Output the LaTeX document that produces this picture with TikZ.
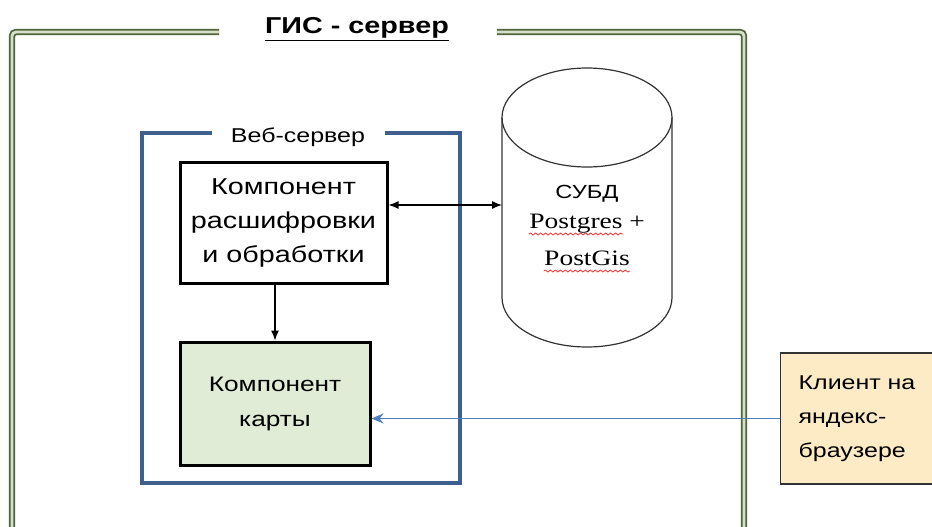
\documentclass[tikz,border=0pt]{standalone}
\usepackage{fontspec}
\setmainfont{Liberation Sans}[FakeStretch=1.25]
\newfontfamily\pgfont{Liberation Serif}[FakeStretch=1.25]
\usetikzlibrary{arrows.meta,decorations.pathmorphing}
\definecolor{gisgreen}{HTML}{50643C}
\definecolor{gislight}{HTML}{D5E0C8}
\definecolor{webblue}{HTML}{3F5F8F}
\definecolor{mapfill}{HTML}{E0ECD6}
\definecolor{clientfill}{HTML}{FDEBC6}
\definecolor{linkblue}{HTML}{4F7FBD}
\tikzset{
	gisframe/.style={draw=gisgreen, double=gislight, line width=0.9pt, double distance=1.4pt, rounded corners=2pt},
	webframe/.style={draw=webblue, line width=2pt},
	comp/.style={draw=black, line width=1.5pt, align=center, font=\fontsize{11.5}{17}\selectfont},
	client/.style={draw=black!80, line width=0.6pt, fill=clientfill, align=left, text width=100pt, inner xsep=9pt, minimum height=65.5pt, font=\fontsize{10}{17}\selectfont},
	dbline/.style={draw=black!80, line width=0.6pt},
	spell/.style={draw=red!80, line width=0.4pt, decorate, decoration={snake, amplitude=0.5pt, segment length=2.5pt}}
}
\begin{document}
\begin{tikzpicture}[x=0.5pt,y=-0.5pt,>={Latex[length=5pt,width=4pt]}]
	\useasboundingbox[fill=white] (0,0) rectangle (932,526);
	\clip (0,0) rectangle (932,526);
	\node[anchor=base, font=\bfseries\fontsize{11.5}{14}\selectfont] (gis) at (357,33) {\underline{ГИС - сервер}};
	\draw[gisframe] (219,32) -- (12,32) -- (12,540);
	\draw[gisframe] (497,32) -- (744,32) -- (744,540);
	\node[anchor=base, font=\fontsize{10}{14}\selectfont] (web) at (298,142) {Веб-сервер};
	\draw[webframe] (212,133) -- (142,133) -- (142,483) -- (460,483) -- (460,133) -- (385,133);
	\node[comp, minimum width=103.5pt, minimum height=60.5pt] (dec) at (283.5,222.5) {Компонент\\расшифровки\\и обработки};
	\node[comp, fill=mapfill, minimum width=95pt, minimum height=61.5pt, font=\fontsize{10.5}{17.5}\selectfont] (map) at (275,403.5) {Компонент\\карты};
	\draw[dbline] (587,117.5) ellipse (85 and 49.5);
	\draw[dbline] (502,117.5) -- (502,297.5) arc (180:0:85 and 49.5) -- (672,117.5);
	\coordinate (dbw) at (502,205);
	\node[anchor=base, font=\fontsize{9.5}{14}\selectfont] (dbms) at (587,198) {СУБД};
	\node[anchor=base west, inner sep=0pt, font=\pgfont\fontsize{11}{14}\selectfont] (pg) at (529,228) {Postgres};
	\node[anchor=base west, inner sep=0pt, font=\pgfont\fontsize{11}{14}\selectfont] (plus) at ([xshift=3pt]pg.base east) {+};
	\node[anchor=base, inner sep=0pt, font=\pgfont\fontsize{11}{14}\selectfont] (pgis) at (587,265) {PostGis};
	\draw[spell] ([yshift=-3pt]pg.base west) -- ([yshift=-3pt]pg.base east);
	\draw[spell] ([yshift=-3pt]pgis.base west) -- ([yshift=-3pt]pgis.base east);
	\node[client, anchor=west] (client) at (780,418.5) {Клиент на\\яндекс-\\браузере};
	\draw[<->, line width=0.6pt] (dbw -| dec.east) -- (dbw);
	\draw[->, line width=0.6pt] (map.north |- dec.south) -- (map.north);
	\draw[-{Stealth[length=6pt,width=5pt]}, draw=linkblue, line width=0.6pt] (client.west) -- (client.west -| map.east);
\end{tikzpicture}
\end{document}
